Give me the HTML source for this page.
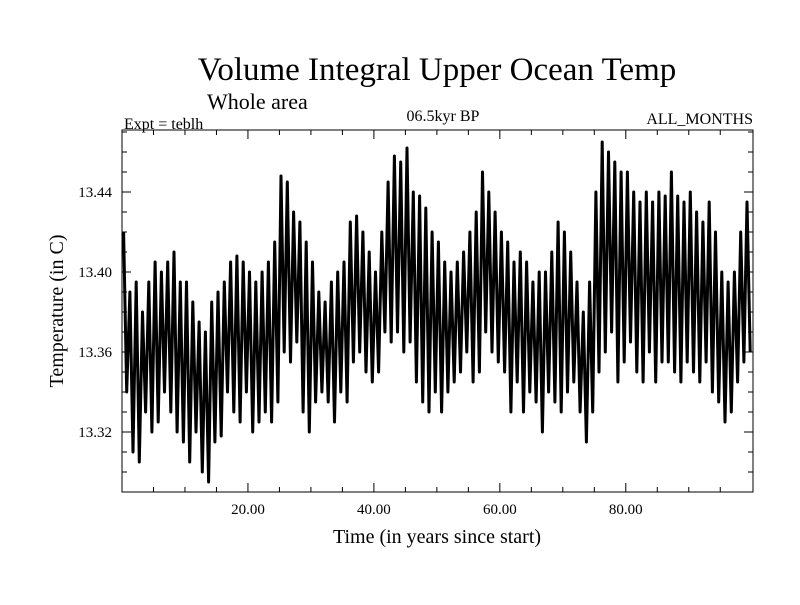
<!DOCTYPE html>
<html><head><meta charset="utf-8"><style>
body{margin:0;background:#fff;}
svg text{font-family:"Liberation Serif",serif;fill:#000;}
</style></head><body>
<svg id="chart" width="800" height="600" xmlns="http://www.w3.org/2000/svg">
<rect width="800" height="600" fill="#fff"/>
<text x="437" y="80" font-size="33" text-anchor="middle">Volume Integral Upper Ocean Temp</text>
<text x="207" y="109" font-size="22">Whole area</text>
<text x="124" y="129" font-size="16">Expt = teblh</text>
<text x="443" y="121" font-size="16" text-anchor="middle">06.5kyr BP</text>
<text x="753" y="124" font-size="16" text-anchor="end">ALL_MONTHS</text>
<text x="437" y="543" font-size="20" text-anchor="middle">Time (in years since start)</text>
<text x="0" y="0" font-size="20" text-anchor="middle" transform="translate(63,311) rotate(-90)">Temperature (in C)</text>
<g id="axes"></g>
<path id="series" fill="none" stroke="#000" stroke-width="3" stroke-linejoin="round"/>
<rect x="122" y="130" width="631" height="362" fill="none" stroke="#000" stroke-width="1"/>
</svg>
<script>
const yearPeaks=[13.420,13.390,13.395,13.380,13.395,13.405,13.400,13.405,13.410,13.395,13.395,13.385,13.375,13.370,13.385,13.390,13.395,13.405,13.408,13.405,13.400,13.395,13.400,13.405,13.415,13.448,13.445,13.430,13.425,13.415,13.405,13.390,13.385,13.395,13.400,13.405,13.425,13.428,13.420,13.410,13.400,13.420,13.445,13.458,13.455,13.462,13.440,13.438,13.432,13.420,13.415,13.405,13.400,13.405,13.410,13.420,13.430,13.450,13.440,13.430,13.420,13.415,13.405,13.410,13.405,13.395,13.400,13.400,13.410,13.425,13.420,13.410,13.395,13.380,13.395,13.440,13.465,13.460,13.455,13.450,13.450,13.440,13.435,13.440,13.435,13.440,13.438,13.450,13.438,13.435,13.440,13.430,13.425,13.435,13.420,13.400,13.395,13.400,13.420,13.435];
const yearTroughs=[13.340,13.310,13.305,13.330,13.320,13.325,13.340,13.330,13.320,13.315,13.305,13.320,13.300,13.295,13.315,13.318,13.340,13.330,13.325,13.340,13.320,13.325,13.330,13.325,13.335,13.360,13.355,13.365,13.330,13.320,13.335,13.340,13.335,13.325,13.340,13.335,13.355,13.360,13.350,13.345,13.350,13.370,13.365,13.370,13.360,13.365,13.345,13.335,13.330,13.340,13.330,13.340,13.345,13.350,13.360,13.345,13.350,13.370,13.360,13.355,13.350,13.330,13.345,13.330,13.340,13.335,13.320,13.340,13.335,13.330,13.340,13.345,13.330,13.315,13.330,13.350,13.360,13.370,13.345,13.355,13.365,13.350,13.345,13.360,13.345,13.355,13.355,13.350,13.345,13.355,13.350,13.345,13.355,13.340,13.335,13.325,13.330,13.345,13.355,13.360];
const yTicks=[13.32,13.36,13.40,13.44];
const yTickLabels=["13.32","13.36","13.40","13.44"];
const xTicks=[20,40,60,80];
const xTickLabels=["20.00","40.00","60.00","80.00"];
const X0=122,X1=753,Y0=130,Y1=492,xmin=0,xmax=100.2,ymin=13.29,ymax=13.471;
const sx=v=>X0+(v-xmin)/(xmax-xmin)*(X1-X0);
const sy=v=>Y1-(v-ymin)/(ymax-ymin)*(Y1-Y0);
const NS="http://www.w3.org/2000/svg";
const axes=document.getElementById('axes');
function line(x1,y1,x2,y2,name){const l=document.createElementNS(NS,'line');l.setAttribute('x1',x1);l.setAttribute('y1',y1);l.setAttribute('x2',x2);l.setAttribute('y2',y2);l.setAttribute('stroke','#000');l.setAttribute('stroke-width','1');


axes.appendChild(l);}
function txt(x,y,s,anchor,name){const t=document.createElementNS(NS,'text');t.setAttribute('x',x);t.setAttribute('y',y);t.setAttribute('font-size','15');t.setAttribute('text-anchor',anchor);t.textContent=s;


axes.appendChild(t);}
for(let v=13.30;v<=13.47;v+=0.01){const y=sy(v);const major=yTicks.some(t=>Math.abs(t-v)<1e-6);const L=major?9:5;line(X0,y,X0+L,y,'y-tick');line(X1-L,y,X1,y,'y-tick');}
yTicks.forEach((v,i)=>txt(112,sy(v)+5,yTickLabels[i],'end','y-tick-label'));
for(let v=5;v<100;v+=5){const x=sx(v);const major=v%20===0;const L=major?9:5;line(x,Y1,x,Y1-L,'x-tick');line(x,Y0,x,Y0+L,'x-tick');}
xTicks.forEach((v,i)=>txt(sx(v),514,xTickLabels[i],'middle','x-tick-label'));
let d='';
yearPeaks.forEach((p,i)=>{d+=(i?'L':'M')+sx(i+0.25).toFixed(1)+','+sy(p).toFixed(1);d+='L'+sx(i+0.75).toFixed(1)+','+sy(yearTroughs[i]).toFixed(1);});
document.getElementById('series').setAttribute('d',d);
</script>
</body></html>
